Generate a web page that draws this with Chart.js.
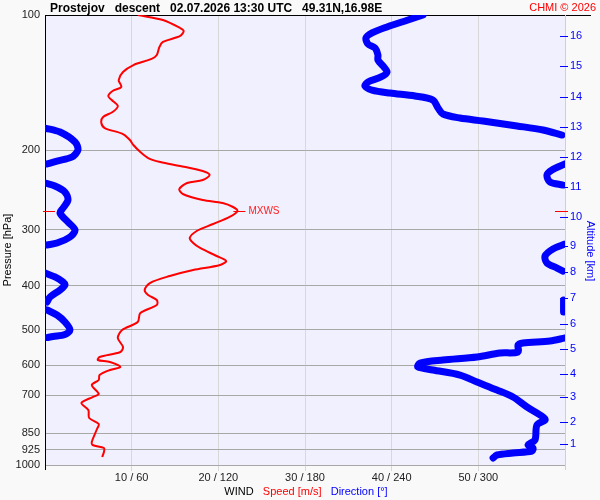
<!DOCTYPE html>
<html>
<head>
<meta charset="utf-8">
<title>Prostejov descent wind</title>
<script src="https://cdn.jsdelivr.net/npm/chart.js@4.4.1/dist/chart.umd.min.js"></script>
<style>
  html, body { margin: 0; padding: 0; background: #f9f9f9; }
</style>
</head>
<body>
<canvas id="windChart" width="600" height="500"></canvas>
<script>
// pressure levels [hPa] and wind speed [m/s]
const speedPressure = [100, 102.6, 106.9, 108.5, 111.3, 114.8, 117.8, 122.7, 125.2, 129.2, 133.9, 139.5, 144.5, 147.5, 151.4, 154.5, 159.3, 164.3, 168.5, 173.8, 178.3, 183.9, 189.6, 194.5, 201.6, 207.9, 212.2, 216.5, 222.2, 226.8, 232.6, 236.2, 243.6, 249.9, 257.7, 261.7, 267.1, 272.6, 281.1, 291.4, 302.0, 313.0, 321.1, 329.4, 343.2, 352.1, 359.4, 368.7, 380.2, 394.1, 408.4, 419.0, 429.9, 441.0, 459.4, 481.1, 501.2, 522.1, 546.8, 560.9, 575.5, 584.4, 590.4, 605.7, 615.0, 631.0, 647.3, 664.1, 695.4, 706.2, 728.2, 754.7, 786.3, 810.8, 831.8, 889.0, 902.8, 916.7, 935.7, 960];
const speedMs = [10.7, 13.6, 15.6, 16.0, 15.6, 13.6, 13.2, 12.9, 12.3, 10.2, 9.0, 8.5, 8.8, 7.8, 7.3, 7.7, 8.4, 7.8, 6.7, 6.5, 6.9, 9.0, 9.8, 10.2, 11.0, 11.9, 13.3, 15.6, 18.2, 19.0, 18.2, 16.4, 15.5, 15.9, 18.2, 20.5, 21.7, 22.2, 21.3, 19.4, 17.5, 16.7, 17.1, 17.9, 19.8, 20.9, 20.2, 17.1, 14.4, 12.1, 11.5, 11.9, 12.9, 12.9, 11.0, 10.7, 8.9, 8.4, 9.0, 8.7, 6.3, 6.1, 7.5, 8.7, 7.5, 6.3, 6.2, 5.4, 6.2, 5.5, 4.2, 5.0, 5.1, 6.2, 6.0, 5.4, 5.5, 6.8, 6.8, 6.6];

// wind direction [deg], null = break where it wraps round 0/360
const dirPressure = [
  100, 102.6, 106.3, 109.6, 112.5, 116.0, 118.4, 122.7, 125.9, 129.8, 133.9, 137.3, 140.9, 143.8, 146.8, 149.1, 151.4, 154.5, 160.9, 166.0, 169.4, 172.0, 176.4, 180.1, 184.8, null,
  178.3, 182.0, 191.5, 199.5, 206.8, 211.1, 214.3, null,
  214.3, 221.0, 226.8, 235.0, 238.7, null,
  236.2, 239.9, 247.4, 257.7, 268.5, 275.4, 288.4, 300.5, 311.4, 321.1, 324.4, null,
  322.8, 331.1, 343.2, 355.7, 365.0, 370.6, null,
  374.4, 382.1, 392.0, 398.1, 408.4, 423.4, 434.3, null,
  430, 457, null,
  452.4, 464.2, 481.1, 501.2, 513.0, 518.0, 521.0, null,
  522.1, 530.2, 535.7, 541.2, 560.9, 563.8, 575.5, 584.4, 593.4, 605.7, 615.0, 631.0, 654.0, 681.3, 706.2, 743.2, 782.2, 794.4, 814.9, 880.0, 902.8, 916.7, 930.9, 940.5, 950.2, 964.8
];
const dirDeg = [
  261.7, 251.3, 236.8, 226.4, 222.2, 223.6, 228.5, 230.5, 230.5, 234.0, 236.8, 232.6, 223.6, 221.5, 226.4, 238.8, 256.2, 268.6, 272.1, 275.5, 287.3, 303.2, 326.8, 344.8, 357.9, null,
  0, 10.4, 20.8, 22.8, 18.7, 8.3, 1.4, null,
  360, 351, 347.5, 349.6, 358.6, null,
  0, 6.9, 13.8, 15.9, 12.5, 10.4, 15.9, 20.8, 17.3, 8.3, 1.4, null,
  360, 351.7, 346.2, 347.5, 354.5, 358.6, null,
  0, 6.9, 12.5, 13.8, 10.4, 3.5, 1.4, null,
  359, 359, null,
  1.4, 8.3, 13.8, 17.3, 13.8, 5.5, 1.4, null,
  360, 349.6, 330.9, 327.5, 327.5, 315.0, 299.1, 275.5, 259.6, 258.2, 268.6, 287.3, 299.1, 312.9, 324.0, 333.7, 344.8, 346.2, 340.6, 339.2, 334.4, 337.8, 337.2, 324.0, 312.9, 310.2
];

const pressureTicks = [100, 200, 300, 400, 500, 600, 700, 850, 925, 1000];
const speedTicks = [10, 20, 30, 40, 50];
const dirTicks = [60, 120, 180, 240, 300];
const altitudeKm = [1, 2, 3, 4, 5, 6, 7, 8, 9, 10, 11, 12, 13, 14, 15, 16];
const altitudeHpa = [898.0, 802.4, 706.4, 627.8, 552.5, 486.1, 425.5, 372.6, 326.2, 281.1, 241.1, 206.8, 177.4, 152.1, 129.8, 111.3];

// max wind
const mxwsPressure = 272.6;
const mxwsSpeed = 22.2;

const FONT = 'Arial, "Liberation Sans", sans-serif';

const bgPlugin = {
  id: 'bg',
  beforeDraw(chart) {
    const c = chart.ctx, a = chart.chartArea;
    c.save();
    c.fillStyle = '#f9f9f9';
    c.fillRect(0, 0, chart.width, chart.height);
    c.fillStyle = '#f0f0ff';
    c.fillRect(a.left, a.top, a.right - a.left, a.bottom - a.top);
    c.restore();
  }
};

const decorPlugin = {
  id: 'decor',
  beforeDatasetsDraw(chart) {
    const c = chart.ctx, a = chart.chartArea;
    c.save();
    c.strokeStyle = '#000';
    c.lineWidth = 1;
    c.beginPath();
    c.moveTo(a.left, a.top + 0.5);
    c.lineTo(a.right + 26, a.top + 0.5);
    c.moveTo(a.left + 0.5, a.top);
    c.lineTo(a.left + 0.5, a.bottom + 5);
    c.stroke();
    c.strokeStyle = '#d0d0d0';
    c.beginPath();
    c.moveTo(a.right + 0.5, a.top);
    c.lineTo(a.right + 0.5, a.bottom + 5);
    c.stroke();
    c.restore();
  },
  afterDraw(chart) {
    const c = chart.ctx, a = chart.chartArea;
    const y2 = chart.scales.y2, y = chart.scales.y, x = chart.scales.x;
    c.save();

    // altitude ticks
    c.strokeStyle = '#0000ff';
    c.lineWidth = 1;
    c.beginPath();
    altitudeHpa.forEach(p => {
      const py = Math.round(y2.getPixelForValue(p)) + 0.5;
      c.moveTo(a.right - 5, py);
      c.lineTo(a.right + 3, py);
    });
    c.stroke();

    // MXWS marker
    const my = Math.round(y.getPixelForValue(mxwsPressure)) + 0.5;
    const mx = x.getPixelForValue(mxwsSpeed);
    c.strokeStyle = '#ff0000';
    c.beginPath();
    c.moveTo(a.left - 2, my); c.lineTo(a.left + 10, my);
    c.moveTo(a.right - 10, my); c.lineTo(a.right + 3, my);
    c.moveTo(mx - 4, my); c.lineTo(mx + 8, my);
    c.stroke();
    c.fillStyle = '#ff2020';
    c.font = '10px ' + FONT;
    c.textBaseline = 'middle';
    c.textAlign = 'left';
    c.fillText('MXWS', mx + 11, my);

    // title
    c.fillStyle = '#000';
    c.font = 'bold 12px ' + FONT;
    c.textBaseline = 'alphabetic';
    c.fillText('Prostejov   descent   02.07.2026 13:30 UTC   49.31N,16.98E', 50, 12);
    c.fillStyle = '#ff0000';
    c.font = '11px ' + FONT;
    c.textAlign = 'right';
    c.fillText('CHMI \u00a9 2026', 596, 11);

    // bottom legend
    const parts = [['WIND', '#000'], ['Speed [m/s]', '#ff0000'], ['Direction [\u00b0]', '#0000ff']];
    const gap = c.measureText('   ').width;
    let total = 0;
    parts.forEach((p, i) => { total += c.measureText(p[0]).width + (i ? gap : 0); });
    let tx = 306 - total / 2;
    c.textAlign = 'left';
    parts.forEach(p => {
      c.fillStyle = p[1];
      c.fillText(p[0], tx, 495);
      tx += c.measureText(p[0]).width + gap;
    });

    // axis titles
    c.textAlign = 'center';
    c.textBaseline = 'middle';
    c.fillStyle = '#000';
    c.save();
    c.translate(8, 250);
    c.rotate(-Math.PI / 2);
    c.fillText('Pressure [hPa]', 0, 0);
    c.restore();
    c.fillStyle = '#0000ff';
    c.save();
    c.translate(590, 251);
    c.rotate(Math.PI / 2);
    c.fillText('Altitude [km]', 0, 0);
    c.restore();

    c.restore();
  }
};

new Chart(document.getElementById('windChart'), {
  type: 'line',
  data: {
    datasets: [
      {
        label: 'Speed [m/s]',
        data: speedPressure.map((p, i) => ({ x: speedMs[i], y: p })),
        xAxisID: 'x', yAxisID: 'y',
        borderColor: '#ff0000', borderWidth: 2,
        pointRadius: 0, tension: 0.3, clip: 0, order: 0
      },
      {
        label: 'Direction [\u00b0]',
        data: dirPressure.map((p, i) => ({ x: dirDeg[i], y: p })),
        xAxisID: 'x2', yAxisID: 'y',
        borderColor: '#0000ff', borderWidth: 7,
        borderCapStyle: 'round', borderJoinStyle: 'round',
        pointRadius: 0, tension: 0.3, clip: 0, order: 1
      }
    ]
  },
  options: {
    responsive: false,
    animation: false,
    events: [],
    layout: { padding: { top: 15 } },
    plugins: { legend: { display: false }, tooltip: { enabled: false } },
    scales: {
      x: {
        type: 'linear', position: 'bottom', min: 0, max: 60,
        afterBuildTicks: s => { s.ticks = speedTicks.map(v => ({ value: v })); },
        afterFit: s => { s.height = 35; },
        ticks: {
          autoSkip: false, maxRotation: 0, padding: 0, color: '#222',
          font: { family: FONT, size: 11 },
          callback: (v, i) => speedTicks[i] + ' / ' + dirTicks[i]
        },
        grid: { color: '#d8d8d8', tickLength: 6 },
        border: { display: false }
      },
      x2: { type: 'linear', min: 0, max: 360, display: false },
      y: {
        type: 'logarithmic', position: 'left', min: 100, max: 1000, reverse: true,
        afterBuildTicks: s => { s.ticks = pressureTicks.map(v => ({ value: v })); },
        afterFit: s => { s.width = 45; },
        ticks: {
          autoSkip: false, padding: 5, color: '#222',
          font: { family: FONT, size: 11 },
          callback: (v, i) => String(pressureTicks[i])
        },
        grid: { color: '#a8a8a8', drawTicks: false },
        border: { color: '#000' }
      },
      y2: {
        type: 'logarithmic', position: 'right', min: 100, max: 1000, reverse: true,
        afterBuildTicks: s => { s.ticks = altitudeHpa.map(v => ({ value: v })); },
        afterFit: s => { s.width = 35; },
        ticks: {
          autoSkip: false, padding: 5, color: '#0000ff',
          font: { family: FONT, size: 11 },
          callback: (v, i) => String(altitudeKm[i])
        },
        grid: { drawOnChartArea: false, drawTicks: false },
        border: { display: false }
      }
    }
  },
  plugins: [bgPlugin, decorPlugin]
});
</script>
</body>
</html>
